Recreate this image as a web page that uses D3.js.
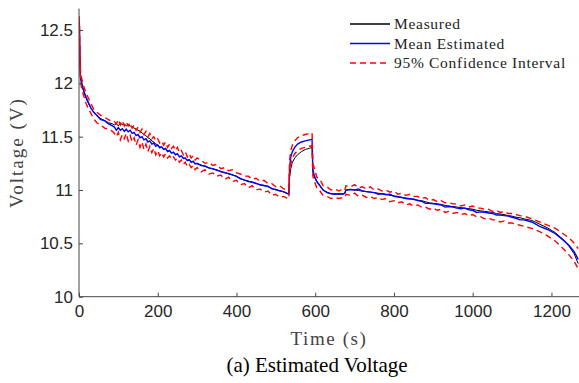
<!DOCTYPE html>
<html>
<head>
<meta charset="utf-8">
<script src="https://cdn.jsdelivr.net/npm/d3@7"></script>
<style>
  body { margin: 0; background: #fff; }
  svg { display: block; }
</style>
</head>
<body>
<div id="chart"></div>
<script>
// sample times (s)
const time = [
  0, 1, 2, 3, 4, 6, 9, 13, 18, 24, 30, 37, 45, 55, 65, 75, 85,
  90, 95, 100, 105, 110, 115, 120, 125, 130, 135, 140, 145, 150, 155, 160, 165, 170, 175, 180, 185, 190, 195, 200,
  205, 210, 215, 220, 225, 230, 235, 240, 245, 250, 255, 260, 265, 270, 275, 280, 285, 290, 295, 300,
  310, 320, 330, 340, 350, 360, 370, 380, 390, 400, 410, 420, 430, 440, 450, 460, 470, 480, 490, 500, 510, 520, 530,
  533, 535, 538, 542, 548, 555, 565, 575, 585, 592,
  594, 598, 604, 612, 620, 630, 640, 650, 660, 670, 675,
  678, 690, 700, 710, 720, 730, 740, 750, 760, 770, 780, 790, 800, 810, 820, 830, 840, 850, 860, 870, 880, 890,
  900, 910, 920, 930, 940, 950, 960, 970, 980, 990, 1000, 1010, 1020, 1030, 1040, 1050, 1060, 1070, 1080, 1090,
  1100, 1110, 1120, 1130,
  1150, 1170, 1190, 1210, 1230, 1245, 1258, 1268
];

const measured = [
  12.62, 12.50, 12.25, 12.10, 12.04, 12.01, 11.96, 11.91, 11.86, 11.81, 11.77, 11.73, 11.70, 11.67, 11.65, 11.63, 11.62,
  11.61, 11.62, 11.60, 11.63, 11.61, 11.62, 11.60, 11.61, 11.60, 11.59, 11.58, 11.57, 11.56, 11.55, 11.535, 11.52, 11.51, 11.49, 11.48, 11.46, 11.45, 11.43, 11.425,
  11.405, 11.40, 11.385, 11.385, 11.365, 11.365, 11.35, 11.35, 11.335, 11.335, 11.315, 11.315, 11.30, 11.295, 11.28, 11.28, 11.265, 11.265, 11.25, 11.245,
  11.235, 11.22, 11.21, 11.195, 11.19, 11.17, 11.165, 11.15, 11.145, 11.125, 11.11, 11.09, 11.085, 11.07, 11.065, 11.045, 11.045, 11.03, 11.015, 11.0, 10.995, 10.98, 10.965,
  10.96, 11.12, 11.20, 11.26, 11.30, 11.33, 11.36, 11.38, 11.39, 11.40,
  11.17, 11.12, 11.075, 11.04, 11.00, 10.98, 10.965, 10.965, 10.96, 10.965, 10.97,
  11.00, 11.005, 11.00, 10.995, 10.99, 10.985, 10.98, 10.975, 10.97, 10.965, 10.96, 10.95, 10.945, 10.94, 10.93, 10.925, 10.92, 10.91, 10.905, 10.90, 10.89, 10.88,
  10.875, 10.87, 10.865, 10.855, 10.85, 10.845, 10.84, 10.835, 10.83, 10.825, 10.82, 10.81, 10.805, 10.80, 10.795, 10.79, 10.78, 10.775, 10.77, 10.76,
  10.755, 10.745, 10.74, 10.73,
  10.715, 10.68, 10.645, 10.60, 10.535, 10.47, 10.40, 10.31
];

const meanEstimated = [
  12.60, 12.55, 12.35, 12.15, 12.06, 12.02, 11.97, 11.92, 11.87, 11.82, 11.77, 11.73, 11.70, 11.66, 11.65, 11.62, 11.60,
  11.59, 11.56, 11.585, 11.56, 11.575, 11.55, 11.57, 11.545, 11.56, 11.53, 11.54, 11.51, 11.52, 11.49, 11.50, 11.47, 11.48, 11.45, 11.46, 11.43, 11.44, 11.41, 11.42,
  11.395, 11.405, 11.38, 11.39, 11.36, 11.37, 11.345, 11.355, 11.33, 11.34, 11.31, 11.32, 11.295, 11.30, 11.275, 11.285, 11.26, 11.27, 11.245, 11.25,
  11.23, 11.225, 11.205, 11.20, 11.185, 11.175, 11.16, 11.155, 11.14, 11.13, 11.105, 11.095, 11.08, 11.075, 11.06, 11.05, 11.04, 11.035, 11.01, 11.005, 10.99, 10.985, 10.965,
  10.96, 11.22, 11.31, 11.36, 11.40, 11.43, 11.45, 11.46, 11.47, 11.475,
  11.19, 11.13, 11.08, 11.04, 11.00, 10.975, 10.965, 10.96, 10.965, 10.96, 10.97,
  11.00, 11.005, 11.00, 11.01, 10.99, 10.985, 10.98, 10.975, 10.96, 10.965, 10.955, 10.96, 10.94, 10.935, 10.93, 10.92, 10.915, 10.915, 10.90, 10.895, 10.875, 10.875,
  10.87, 10.865, 10.86, 10.84, 10.845, 10.84, 10.83, 10.825, 10.83, 10.815, 10.81, 10.79, 10.795, 10.79, 10.785, 10.78, 10.765, 10.765, 10.76, 10.755,
  10.745, 10.735, 10.72, 10.72,
  10.70, 10.66, 10.63, 10.59, 10.53, 10.48, 10.42, 10.35
];

const upperCI = [
  12.63, 12.58, 12.40, 12.20, 12.10, 12.06, 12.01, 11.96, 11.91, 11.86, 11.81, 11.76, 11.73, 11.70, 11.68, 11.66, 11.64,
  11.64, 11.62, 11.66, 11.61, 11.65, 11.60, 11.64, 11.60, 11.63, 11.58, 11.61, 11.56, 11.59, 11.54, 11.57, 11.52, 11.55, 11.50, 11.53, 11.48, 11.50, 11.46, 11.48,
  11.44, 11.46, 11.42, 11.45, 11.40, 11.43, 11.39, 11.41, 11.37, 11.40, 11.35, 11.37, 11.33, 11.36, 11.31, 11.34, 11.30, 11.32, 11.28, 11.30,
  11.28, 11.25, 11.26, 11.23, 11.24, 11.20, 11.21, 11.18, 11.19, 11.16, 11.15, 11.13, 11.13, 11.10, 11.11, 11.08, 11.09, 11.06, 11.06, 11.03, 11.04, 11.01, 11.00,
  11.00, 11.28, 11.37, 11.42, 11.46, 11.49, 11.51, 11.52, 11.53, 11.535,
  11.25, 11.20, 11.12, 11.10, 11.04, 11.03, 11.00, 11.01, 10.99, 11.01, 11.00,
  11.04, 11.03, 11.05, 11.02, 11.03, 11.01, 11.03, 11.00, 11.01, 10.99, 11.00, 10.98, 10.99, 10.96, 10.97, 10.95, 10.96, 10.94, 10.94, 10.92, 10.93, 10.90,
  10.91, 10.89, 10.90, 10.88, 10.88, 10.87, 10.87, 10.85, 10.86, 10.84, 10.85, 10.83, 10.83, 10.82, 10.82, 10.80, 10.81, 10.79, 10.80, 10.78,
  10.78, 10.77, 10.76, 10.755,
  10.73, 10.70, 10.67, 10.64, 10.59, 10.55, 10.50, 10.45
];

const lowerCI = [
  12.57, 12.50, 12.30, 12.10, 12.01, 11.97, 11.92, 11.87, 11.81, 11.76, 11.72, 11.67, 11.63, 11.61, 11.58, 11.57, 11.55,
  11.53, 11.50, 11.54, 11.47, 11.52, 11.48, 11.53, 11.46, 11.51, 11.45, 11.49, 11.42, 11.47, 11.40, 11.45, 11.38, 11.43, 11.36, 11.41, 11.35, 11.39, 11.33, 11.37,
  11.32, 11.35, 11.31, 11.34, 11.30, 11.32, 11.29, 11.31, 11.28, 11.30, 11.26, 11.28, 11.24, 11.26, 11.22, 11.24, 11.21, 11.23, 11.19, 11.21,
  11.17, 11.19, 11.15, 11.16, 11.13, 11.14, 11.10, 11.12, 11.08, 11.09, 11.05, 11.06, 11.02, 11.04, 11.00, 11.01, 10.98, 10.99, 10.95, 10.96, 10.93, 10.94, 10.92,
  10.92, 11.17, 11.25, 11.30, 11.34, 11.37, 11.39, 11.40, 11.41, 11.415,
  11.13, 11.08, 11.02, 10.99, 10.95, 10.94, 10.92, 10.93, 10.92, 10.93, 10.93,
  10.96, 10.95, 10.97, 10.94, 10.95, 10.93, 10.94, 10.92, 10.93, 10.91, 10.92, 10.89, 10.90, 10.88, 10.89, 10.86, 10.87, 10.85, 10.86, 10.84, 10.84, 10.82,
  10.83, 10.81, 10.82, 10.79, 10.80, 10.78, 10.79, 10.77, 10.78, 10.76, 10.77, 10.75, 10.75, 10.73, 10.74, 10.72, 10.72, 10.70, 10.71, 10.69,
  10.69, 10.68, 10.67, 10.66,
  10.64, 10.61, 10.57, 10.52, 10.45, 10.39, 10.33, 10.26
];

const xTicks = [0, 200, 400, 600, 800, 1000, 1200];
const yTicks = [10, 10.5, 11, 11.5, 12, 12.5];
const legendLabels = ['Measured', 'Mean Estimated', '95% Confidence Interval'];

const width = 579;
const height = 383;
const margin = { left: 79, right: 0, top: 8.6, bottom: 86.3 };
const serif = '"Times New Roman", "Liberation Serif", Times, serif';

const svg = d3.select('#chart')
  .append('svg')
  .attr('width', width)
  .attr('height', height);

const x = d3.scaleLinear().domain([0, 1270]).range([margin.left, width - margin.right]);
const y = d3.scaleLinear().domain([10, 12.7]).range([height - margin.bottom, margin.top]);

// clip so the lines stop at the plot edge
svg.append('clipPath').attr('id', 'plot-clip')
  .append('rect')
  .attr('x', margin.left)
  .attr('y', 0)
  .attr('width', width - margin.left)
  .attr('height', height - margin.bottom);

const line = d3.line()
  .x((d) => x(d[0]))
  .y((d) => y(d[1]));

const pairs = (vals) => time.map((t, i) => [t, vals[i]]);

const plot = svg.append('g').attr('clip-path', 'url(#plot-clip)');

plot.append('path')
  .datum(pairs(measured))
  .attr('fill', 'none')
  .attr('stroke', '#000')
  .attr('stroke-width', 1)
  .attr('d', line);

plot.append('path')
  .datum(pairs(meanEstimated))
  .attr('fill', 'none')
  .attr('stroke', '#0000ff')
  .attr('stroke-width', 1.4)
  .attr('d', line);

[upperCI, lowerCI].forEach((vals) => {
  plot.append('path')
    .datum(pairs(vals))
    .attr('fill', 'none')
    .attr('stroke', '#ff0000')
    .attr('stroke-width', 1.4)
    .attr('stroke-dasharray', '6,4')
    .attr('d', line);
});

// axes
const axisColor = '#262626';
const xAxis = svg.append('g')
  .attr('transform', `translate(0,${y(10)})`)
  .call(d3.axisBottom(x).tickValues(xTicks).tickSize(-4).tickPadding(8).tickFormat(d3.format('d')));
const yAxis = svg.append('g')
  .attr('transform', `translate(${x(0)},0)`)
  .call(d3.axisLeft(y).tickValues(yTicks).tickSize(-4).tickPadding(6).tickFormat((d) => String(d)));

[xAxis, yAxis].forEach((ax) => {
  ax.select('.domain').attr('stroke', '#444').attr('stroke-width', 1);
  ax.selectAll('.tick line').attr('stroke', '#444');
  ax.selectAll('.tick text')
    .attr('fill', axisColor)
    .style('font-family', '"Liberation Sans", Arial, sans-serif')
    .style('font-size', '17px');
});
// the domain path of d3 adds outer ticks; redraw as plain lines
xAxis.select('.domain').attr('d', `M${x(0)},0H${width}`);
yAxis.select('.domain').attr('d', `M0,${y(10)}V${margin.top}`);

svg.append('text')
  .attr('text-anchor', 'middle')
  .attr('transform', `translate(23,${(y(10) + margin.top) / 2}) rotate(-90)`)
  .attr('fill', '#444')
  .style('font-family', serif)
  .style('font-size', '19px')
  .style('letter-spacing', '2px')
  .text('Voltage (V)');

svg.append('text')
  .attr('text-anchor', 'middle')
  .attr('x', 329)
  .attr('y', 345)
  .attr('fill', '#444')
  .style('font-family', serif)
  .style('font-size', '19px')
  .style('letter-spacing', '1.6px')
  .text('Time (s)');

svg.append('text')
  .attr('text-anchor', 'middle')
  .attr('x', 317)
  .attr('y', 372)
  .attr('fill', '#000')
  .style('font-family', serif)
  .style('font-size', '21px')
  .text('(a) Estimated Voltage');

// legend
const legendStyles = [
  { stroke: '#000', dash: null },
  { stroke: '#0000ff', dash: null },
  { stroke: '#ff0000', dash: '6,4' }
];
const legend = svg.append('g').attr('transform', 'translate(350,24)');
legendLabels.forEach((label, i) => {
  const row = legend.append('g').attr('transform', `translate(0,${i * 19.5})`);
  row.append('line')
    .attr('x1', 0).attr('x2', 40)
    .attr('y1', 0).attr('y2', 0)
    .attr('stroke', legendStyles[i].stroke)
    .attr('stroke-width', 1.4)
    .attr('stroke-dasharray', legendStyles[i].dash);
  row.append('text')
    .attr('x', 44)
    .attr('y', 5)
    .attr('fill', '#222')
    .style('font-family', serif)
    .style('font-size', '15.5px')
    .style('letter-spacing', '0.7px')
    .text(label);
});
</script>
</body>
</html>
